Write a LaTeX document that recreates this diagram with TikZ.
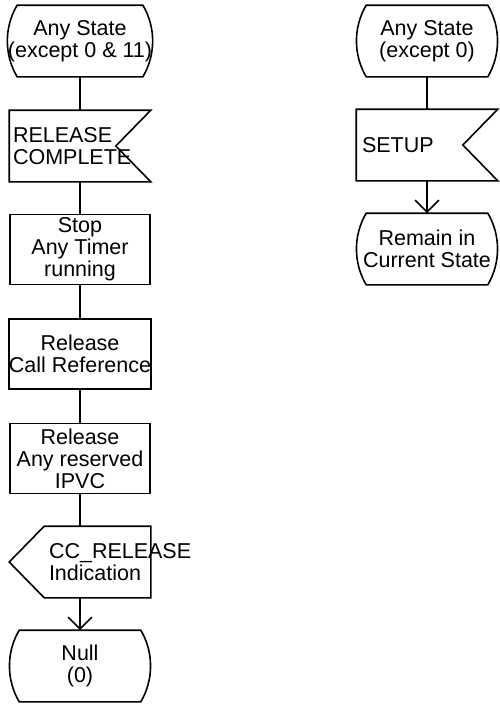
\documentclass[tikz,border=0pt]{standalone}
\usepackage{fontspec}
\setmainfont{Liberation Sans}
\usetikzlibrary{calc,arrows.meta}

\tikzset{
  every sdl/.style={minimum width=140pt, minimum height=70pt, inner sep=0pt},
  sdl state/.style={every sdl, align=center},
  sdl task/.style={every sdl, draw, align=center},
  sdl signal/.style={every sdl},
  signal text/.style={anchor=west, align=left, inner sep=0pt}
}

\begin{document}
\begin{tikzpicture}[x=1pt, y=-1pt, line width=1.6pt,
    >={Straight Barb[length=12pt, width=24pt]},
    font=\fontsize{21.5}{22}\selectfont]
  \useasboundingbox (0,0) rectangle (499,704);

  % left column
  \node [sdl state] (s1) at (80,41) {Any State\\(except 0 \& 11)};
  \node [sdl signal] (r1) at (80,146) {};
  \foreach \m/\l [count=\y] in {1/{Stop\\Any Timer\\running},2/{Release\\Call Reference},3/{Release\\Any reserved\\IPVC}}
  \node [sdl task] (t\m) at (80,145+\y*104.5) {\l};
  \node [sdl signal] (o1) at (80,562) {};
  \node [sdl state] (s2) at (80,666) {Null\\(0)};

  % right column
  \node [sdl state] (s3) at (427,41) {Any State\\(except 0)};
  \node [sdl signal] (r2) at (427,145) {};
  \node [sdl state] (s4) at (427,249) {Remain in\\Current State};

  % signal texts
  \node [signal text] (r1-text) at ($(r1.west)+(3,0)$) {RELEASE\\COMPLETE};
  \node [signal text] (r2-text) at ($(r2.west)+(5,0)$) {SETUP};
  \node [signal text] (o1-text) at ($(o1.west)+(39,0)$) {CC\_RELEASE\\Indication};

  % outlines
  \foreach \n in {s1,s2,s3,s4}
  \draw ($(\n.north west)+(10,0)$) -- ($(\n.north east)+(-10,0)$)
    .. controls +(13,22) and +(13,-22) .. ($(\n.south east)+(-10,0)$)
    -- ($(\n.south west)+(10,0)$)
    .. controls +(-13,-22) and +(-13,22) .. ($(\n.north west)+(10,0)$) -- cycle;

  \foreach \n in {r1,r2}
  \draw (\n.north west) -- (\n.north east) -- ($(\n.east)+(-35,0)$)
    -- (\n.south east) -- (\n.south west) -- cycle;

  \draw (o1.west) -- ($(o1.north west)+(35,0)$) -- (o1.north east)
    -- (o1.south east) -- ($(o1.south west)+(35,0)$) -- cycle;

  % connectors
  \draw (s1.south) -- (r1.north);
  \draw (r1.south) -- (t1.north);
  \draw (t1.south) -- (t2.north);
  \draw (t2.south) -- (t3.north);
  \draw (t3.south) -- (o1.north);
  \draw [->] (o1.south) -- (s2.north);

  \draw (s3.south) -- (r2.north);
  \draw [->] (r2.south) -- (s4.north);
\end{tikzpicture}
\end{document}
